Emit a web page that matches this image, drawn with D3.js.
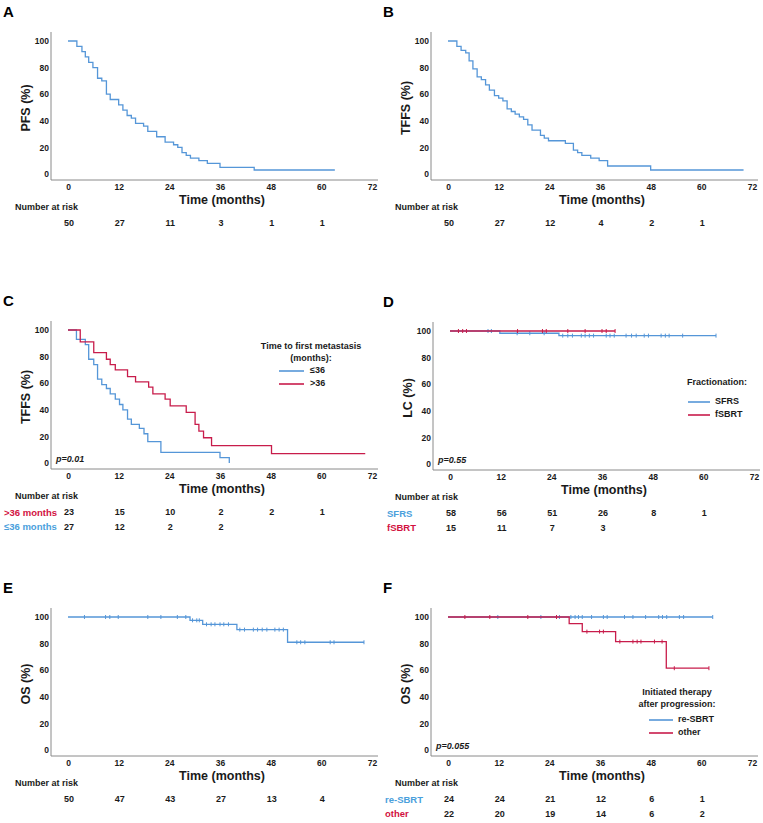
<!DOCTYPE html>
<html><head><meta charset="utf-8">
<script src="https://cdn.jsdelivr.net/npm/d3@7"></script>
<style>body{margin:0;background:#fff}svg{display:block}text{font-family:Arial,'Liberation Sans',sans-serif}</style>
</head><body><div id="c"></div>
<script>
// ---- data ----
const xTicks = [0, 12, 24, 36, 48, 60, 72];
const yTicks = [0, 20, 40, 60, 80, 100];

// A: PFS
const pfsT = [0, 2.1, 3.3, 4.1, 4.9, 5.9, 7.0, 8.0, 9.1, 10.0, 12.0, 13.0, 14.0, 15.0, 16.0, 17.9, 18.9, 21.0, 23.0, 25.0, 26.0, 27.0, 28.0, 29.0, 31.0, 33.0, 36.0, 44.1];
const pfsS = [100, 96, 92, 88, 84, 80, 72, 70, 60, 56, 52, 48, 44, 42, 38, 36, 32, 28, 24, 22, 20, 16, 14, 12, 10, 8, 5, 3];
const pfsEnd = 63.2;
const riskA = [50, 27, 11, 3, 1, 1];

// B: TFFS
const tffsT = [0, 2.1, 3.1, 4.2, 5.0, 5.9, 6.9, 7.9, 8.9, 9.8, 11.0, 12.0, 13.0, 14.0, 15.0, 15.9, 16.9, 17.9, 18.9, 19.9, 21.9, 22.8, 23.8, 27.8, 29.7, 30.7, 31.7, 33.8, 35.8, 37.8, 48.0];
const tffsS = [100, 96, 93, 91, 85, 79, 73, 71, 67, 63, 59, 57, 55, 49, 47, 45, 43, 41, 37, 33, 29, 27, 25, 23, 18, 16, 14, 12, 10, 6, 3];
const tffsEnd = 70;
const riskB = [50, 27, 12, 4, 2, 1];

// C: TFFS by time to first metastasis
const leT = [0, 2.0, 4.1, 4.9, 6.1, 7.0, 8.0, 9.1, 10.0, 11.2, 12.2, 13.0, 14.1, 15.0, 16.9, 18.0, 18.9, 22.0, 36.0, 38.2];
const leS = [100, 93, 89, 78, 74, 63, 59, 56, 52, 48, 44, 40, 33, 29, 26, 22, 16, 8, 4, 0];
const leEnd = 38.2;
const gtT = [0, 2.9, 6.1, 9.1, 10.0, 11.2, 14.1, 16.0, 19.1, 20.1, 23.0, 24.2, 28.0, 30.1, 31.0, 32.1, 34.0, 48.2];
const gtS = [100, 91, 83, 78, 74, 70, 65, 61, 57, 52, 48, 43, 38, 29, 24, 19, 13, 7];
const gtEnd = 70.4;
const riskCgt = [23, 15, 10, 2, 2, 1];
const riskCle = [27, 12, 2, 2];

// D: LC by fractionation
const sfrsT = [0, 11.8, 25.8];
const sfrsS = [100, 98.3, 96.5];
const sfrsEnd = 63;
const sfrsCens = [9.0, 9.8, 15.9, 18.9, 22.3, 26.7, 27.9, 29.0, 31.1, 32.0, 33.0, 34.0, 37.0, 37.9, 38.9, 41.7, 43.0, 44.1, 46.0, 47.0, 50.0, 51.0, 51.9, 55.1, 63.0];
const fsbrtT = [0];
const fsbrtS = [100];
const fsbrtEnd = 39.1;
const fsbrtCens = [2.0, 3.0, 3.9, 16.0, 21.9, 22.8, 27.9, 32.0, 36.0, 37.0, 39.1];
const riskDsfrs = [58, 56, 51, 26, 8, 1];
const riskDfsbrt = [15, 11, 7, 3];

// E: OS
const osT = [0, 28.9, 31.9, 40.0, 52.0];
const osS = [100, 97.5, 94.5, 90.5, 81];
const osEnd = 70.1;
const osCens = [3.9, 8.9, 9.9, 11.9, 18.9, 22.0, 25.9, 27.9, 29.5, 30.5, 31.1, 32.8, 33.9, 34.8, 36.0, 36.9, 38.0, 40.7, 41.8, 43.9, 44.9, 46.0, 47.1, 49.0, 50.0, 51.0, 54.2, 55.1, 56.1, 62.1, 63.0, 70.1];
const riskE = [50, 47, 43, 27, 13, 4];

// F: OS by therapy after progression
const resbrtT = [0];
const resbrtS = [100];
const resbrtEnd = 62.7;
const resbrtCens = [11.8, 22.0, 26.4, 29.1, 30.1, 30.9, 31.8, 34.0, 36.8, 37.7, 41.8, 43.8, 46.8, 49.9, 50.8, 51.8, 54.8, 55.8, 62.7];
const otherT = [0, 28.7, 31.8, 39.7, 51.7];
const otherS = [100, 95, 89, 81.5, 61.5];
const otherEnd = 61.8;
const otherCens = [4.0, 9.9, 18.9, 25.7, 32.9, 35.9, 36.8, 40.7, 43.8, 44.8, 45.7, 48.9, 50.7, 53.6, 61.8];
const riskFre = [24, 24, 21, 12, 6, 1];
const riskFother = [22, 20, 19, 14, 6, 2];

// ---- drawing ----
const BLUE = "#5596d8", RED = "#c81c4b", BLUE_T = "#4aa0dc", RED_T = "#d2123f", TXT = "#1a1a1a";
const svg = d3.select("#c").append("svg").attr("width", 763).attr("height", 823);

function stepVal(T, S, t) { const i = d3.bisectRight(T, t) - 1; return S[Math.max(0, i)]; }

function panel(o) {
  const g = svg.append("g").attr("transform", `translate(${o.ox},${o.oy})`);
  const dx = o.dx || 0;
  const x = d3.scaleLinear().domain([0, 72]).range([68 + dx, 372 + dx]);
  const y = d3.scaleLinear().domain([0, 100]).range([174, 41]);
  const axX = 51 + dx, axY = 180;

  g.append("text").attr("x", 3).attr("y", 17).attr("font-size", 15).attr("font-weight", "bold").attr("fill", "#000").text(o.letter);

  // axis lines
  g.append("line").attr("x1", axX).attr("x2", axX).attr("y1", 32).attr("y2", axY).attr("stroke", "#8a8a8a").attr("stroke-width", 1);
  g.append("line").attr("x1", axX).attr("x2", x(72) + 6).attr("y1", axY).attr("y2", axY).attr("stroke", "#8a8a8a").attr("stroke-width", 1);

  const xa = g.append("g").attr("transform", `translate(0,${axY})`)
    .call(d3.axisBottom(x).tickValues(xTicks).tickSize(0).tickPadding(4));
  xa.select(".domain").remove();
  xa.selectAll("text").attr("font-size", 8.5).attr("font-weight", "bold").attr("fill", TXT).attr("font-family", "Arial,'Liberation Sans',sans-serif");

  const ya = g.append("g").attr("transform", `translate(${axX},0)`)
    .call(d3.axisLeft(y).tickValues(yTicks).tickSize(0).tickPadding(2));
  ya.select(".domain").remove();
  ya.selectAll("text").attr("font-size", 8.5).attr("font-weight", "bold").attr("fill", TXT).attr("font-family", "Arial,'Liberation Sans',sans-serif");

  g.append("text").attr("transform", `translate(${27 + dx},108) rotate(-90)`).attr("text-anchor", "middle")
    .attr("dominant-baseline", "middle").attr("font-size", 12.5).attr("font-weight", "bold").attr("fill", TXT).text(o.ylab);
  g.append("text").attr("x", (x(0) + x(72)) / 2 + 2).attr("y", 201).attr("text-anchor", "middle").attr("dominant-baseline", "middle")
    .attr("font-size", 12.5).attr("font-weight", "bold").attr("fill", TXT).text("Time (months)");

  // curves
  const line = d3.line().x(d => x(d[0])).y(d => y(d[1])).curve(d3.curveStepAfter);
  o.curves.forEach(c => {
    const pts = c.T.map((t, i) => [t, c.S[i]]);
    if (c.end > c.T[c.T.length - 1]) pts.push([c.end, c.S[c.S.length - 1]]);
    g.append("path").attr("d", line(pts)).attr("fill", "none").attr("stroke", c.color).attr("stroke-width", 1.3);
    (c.cens || []).forEach(t => {
      const v = stepVal(c.T, c.S, t);
      g.append("line").attr("x1", x(t)).attr("x2", x(t)).attr("y1", y(v) - 2).attr("y2", y(v) + 2)
        .attr("stroke", c.color).attr("stroke-width", 1);
    });
  });

  // p-value
  if (o.p) g.append("text").attr("x", 56 + dx).attr("y", 171).attr("dominant-baseline", "middle").attr("font-size", 9)
    .attr("font-weight", "bold").attr("font-style", "italic").attr("fill", TXT).text(o.p);

  // legend
  if (o.legend) {
    const L = o.legend;
    L.title.forEach((t, i) => g.append("text").attr("x", L.tx).attr("y", L.ty + i * 12).attr("text-anchor", L.anchor)
      .attr("dominant-baseline", "middle").attr("font-size", 9).attr("font-weight", "bold").attr("fill", TXT).text(t));
    L.items.forEach((it, i) => {
      const yy = L.iy + i * 13;
      g.append("line").attr("x1", L.lx).attr("x2", L.lx + L.lw).attr("y1", yy).attr("y2", yy).attr("stroke", it.color).attr("stroke-width", 1.6);
      g.append("text").attr("x", L.lx + L.lw + L.gap).attr("y", yy).attr("dominant-baseline", "middle").attr("font-size", 9)
        .attr("font-weight", "bold").attr("fill", TXT).text(it.label);
    });
  }

  // number at risk
  g.append("text").attr("x", 15).attr("y", 208).attr("dominant-baseline", "middle").attr("font-size", 9)
    .attr("font-weight", "bold").attr("fill", TXT).text("Number at risk");
  o.risk.forEach((r, ri) => {
    const yy = 224 + ri * 14.5;
    if (r.label) g.append("text").attr("x", r.lx).attr("y", yy).attr("dominant-baseline", "middle").attr("font-size", 9.5)
      .attr("font-weight", "bold").attr("fill", r.color).text(r.label);
    r.vals.forEach((v, i) => g.append("text").attr("x", x(xTicks[i]) + 1).attr("y", yy).attr("text-anchor", "middle")
      .attr("dominant-baseline", "middle").attr("font-size", 9).attr("font-weight", "bold").attr("fill", TXT).text(v));
  });
}

panel({ ox: 0, oy: 0, letter: "A", ylab: "PFS (%)",
  curves: [{ T: pfsT, S: pfsS, end: pfsEnd, color: BLUE }],
  risk: [{ vals: riskA }] });

panel({ ox: 380, oy: 0, letter: "B", ylab: "TFFS (%)",
  curves: [{ T: tffsT, S: tffsS, end: tffsEnd, color: BLUE }],
  risk: [{ vals: riskB }] });

panel({ ox: 0, oy: 289, letter: "C", ylab: "TFFS (%)", p: "p=0.01",
  curves: [{ T: leT, S: leS, end: leEnd, color: BLUE }, { T: gtT, S: gtS, end: gtEnd, color: RED }],
  legend: { title: ["Time to first metastasis", "(months):"], tx: 311, ty: 58, anchor: "middle",
    iy: 82, lx: 279, lw: 25, gap: 6, items: [{ label: "≤36", color: BLUE }, { label: ">36", color: RED }] },
  risk: [{ label: ">36 months", lx: 4, color: RED_T, vals: riskCgt }, { label: "≤36 months", lx: 4, color: BLUE_T, vals: riskCle }] });

panel({ ox: 380, oy: 290, dx: 2, letter: "D", ylab: "LC (%)", p: "p=0.55",
  curves: [{ T: sfrsT, S: sfrsS, end: sfrsEnd, cens: sfrsCens, color: BLUE }, { T: fsbrtT, S: fsbrtS, end: fsbrtEnd, cens: fsbrtCens, color: RED }],
  legend: { title: ["Fractionation:"], tx: 307, ty: 93, anchor: "start",
    iy: 112, lx: 308, lw: 22, gap: 5, items: [{ label: "SFRS", color: BLUE }, { label: "fSBRT", color: RED }] },
  risk: [{ label: "SFRS", lx: 7, color: BLUE_T, vals: riskDsfrs }, { label: "fSBRT", lx: 7, color: RED_T, vals: riskDfsbrt }] });

panel({ ox: 0, oy: 576, letter: "E", ylab: "OS (%)",
  curves: [{ T: osT, S: osS, end: osEnd, cens: osCens, color: BLUE }],
  risk: [{ vals: riskE }] });

panel({ ox: 380, oy: 576, letter: "F", ylab: "OS (%)", p: "p=0.055",
  curves: [{ T: resbrtT, S: resbrtS, end: resbrtEnd, cens: resbrtCens, color: BLUE }, { T: otherT, S: otherS, end: otherEnd, cens: otherCens, color: RED }],
  legend: { title: ["Initiated therapy", "after progression:"], tx: 297, ty: 117, anchor: "middle",
    iy: 144, lx: 269, lw: 24, gap: 5, items: [{ label: "re-SBRT", color: BLUE }, { label: "other", color: RED }] },
  risk: [{ label: "re-SBRT", lx: 5, color: BLUE_T, vals: riskFre }, { label: "other", lx: 5, color: RED_T, vals: riskFother }] });
</script></body></html>
